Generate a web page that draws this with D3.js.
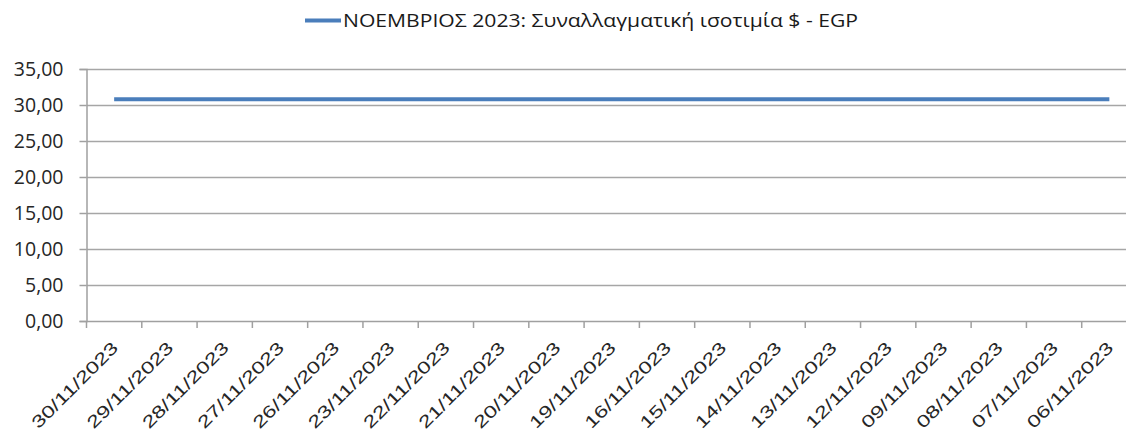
<!DOCTYPE html>
<html>
<head>
<meta charset="utf-8">
<script src="https://cdn.jsdelivr.net/npm/d3@7/dist/d3.min.js"></script>
<style>
  html, body { margin: 0; padding: 0; background: #ffffff; }
  svg { display: block; }
</style>
</head>
<body>
<svg id="chart" width="1126" height="434"></svg>
<script>
const categories = ["30/11/2023","29/11/2023","28/11/2023","27/11/2023","26/11/2023","23/11/2023","22/11/2023","21/11/2023","20/11/2023","19/11/2023","16/11/2023","15/11/2023","14/11/2023","13/11/2023","12/11/2023","09/11/2023","08/11/2023","07/11/2023","06/11/2023"];
const rates = [30.80,30.80,30.80,30.80,30.80,30.80,30.80,30.80,30.80,30.80,30.80,30.80,30.80,30.80,30.80,30.80,30.80,30.80,30.80];
const yTicks = [0,5,10,15,20,25,30,35];
const seriesName = "ΝΟΕΜΒΡΙΟΣ 2023: Συναλλαγματική ισοτιμία $ - EGP";

const svg = d3.select("#chart");
const plotLeft = 86.5, plotRight = 1137, plotTop = 69, plotBottom = 321;

const x = d3.scaleBand().domain(categories).range([plotLeft, plotRight]);
const y = d3.scaleLinear().domain([0, 35]).range([plotBottom, plotTop]);
const fmt = v => d3.format(".2f")(v).replace(".", ",");

// gridlines
svg.append("g").selectAll("line").data(yTicks.filter(d => d > 0)).join("line")
  .attr("x1", plotLeft).attr("x2", plotRight)
  .attr("y1", d => Math.round(y(d)) + 0.5).attr("y2", d => Math.round(y(d)) + 0.5)
  .attr("stroke", "#a6a6a6").attr("stroke-width", 1.5);

// y axis
const yAxis = svg.append("g").attr("transform", `translate(${plotLeft},0)`)
  .call(d3.axisLeft(y).tickValues(yTicks).tickSize(7).tickPadding(16).tickFormat(fmt));
yAxis.select(".domain").attr("stroke", "#a0a0a0").attr("stroke-width", 1.5);
yAxis.selectAll(".tick line").attr("stroke", "#a0a0a0").attr("stroke-width", 1.5);
yAxis.selectAll(".tick text").attr("font-family", "'Open Sans', sans-serif")
  .attr("font-size", 19.5).attr("fill", "#262626");

// x axis
const xAxis = svg.append("g").attr("transform", `translate(0,${plotBottom})`)
  .call(d3.axisBottom(x).tickSize(7).tickSizeOuter(0).tickFormat(d => d));
xAxis.select(".domain").attr("stroke", "#a0a0a0").attr("stroke-width", 1.5);
xAxis.selectAll(".tick line").attr("x1", -x.bandwidth()/2).attr("x2", -x.bandwidth()/2)
  .attr("stroke", "#a0a0a0").attr("stroke-width", 1.5);
xAxis.selectAll(".tick text")
  .attr("font-family", "'Liberation Sans', Arial, sans-serif")
  .attr("font-size", 17).attr("fill", "#262626")
  .attr("text-anchor", "end")
  .attr("dy", 0).attr("y", 0)
  .attr("transform", "translate(5,28) rotate(-45)")
  .attr("textLength", 114).attr("lengthAdjust", "spacingAndGlyphs");

// line
const line = d3.line().x(d => x(d.c) + x.bandwidth()/2).y(d => y(d.v));
svg.append("path")
  .datum(categories.map((c, i) => ({c, v: rates[i]})))
  .attr("d", line)
  .attr("fill", "none").attr("stroke", "#4a7ebb").attr("stroke-width", 4);

// legend
svg.append("line").attr("x1", 305).attr("x2", 341).attr("y1", 20.5).attr("y2", 20.5)
  .attr("stroke", "#4a7ebb").attr("stroke-width", 4);
svg.append("text").attr("x", 343).attr("y", 27)
  .attr("font-family", "'Open Sans', sans-serif").attr("font-size", 18)
  .attr("fill", "#1a1a1a").text(seriesName)
  .attr("textLength", 515).attr("lengthAdjust", "spacingAndGlyphs");
</script>
</body>
</html>
